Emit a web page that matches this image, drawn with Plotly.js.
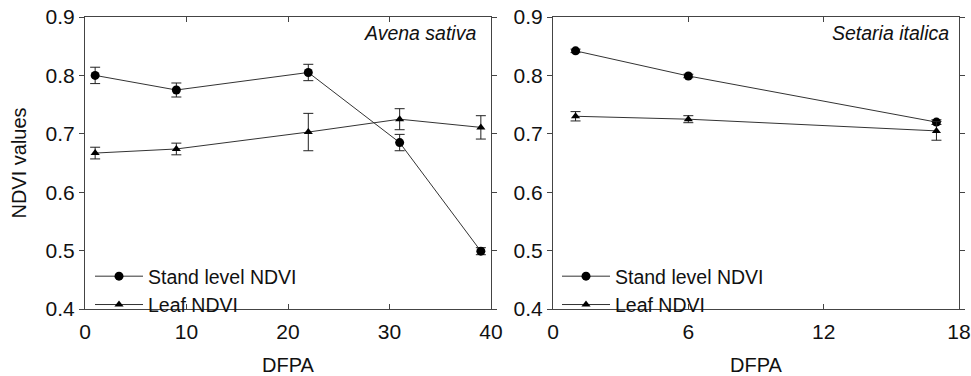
<!DOCTYPE html>
<html>
<head>
<meta charset="utf-8">
<script src="https://cdn.plot.ly/plotly-3.0.1.min.js"></script>
<style>html,body{margin:0;padding:0;background:#fff;}#chart{width:971px;height:376px;}</style>
</head>
<body>
<div id="chart"></div>
<script>
// Avena sativa panel
const avenaX = [1, 9, 22, 31, 39];
const avenaStand = [0.800, 0.775, 0.805, 0.685, 0.499];
const avenaStandErr = [0.014, 0.012, 0.014, 0.014, 0.006];
const avenaLeaf = [0.667, 0.674, 0.703, 0.725, 0.711];
const avenaLeafErr = [0.010, 0.010, 0.032, 0.018, 0.020];

// Setaria italica panel
const setariaX = [1, 6, 17];
const setariaStand = [0.842, 0.799, 0.720];
const setariaStandErr = [0.003, 0.003, 0.004];
const setariaLeaf = [0.730, 0.725, 0.705];
const setariaLeafErr = [0.008, 0.006, 0.016];

const seriesNames = ["Stand level NDVI", "Leaf NDVI"];
const panelLabels = ["Avena sativa", "Setaria italica"];
const xTitle = "DFPA";
const yTitle = "NDVI values";
const yTicks = [0.4, 0.5, 0.6, 0.7, 0.8, 0.9];
const avenaTicks = [0, 10, 20, 30, 40];
const setariaTicks = [0, 6, 12, 18];

const FONT = "Liberation Sans, Arial, sans-serif";
const lineC = "#333";

function trace(x, y, err, name, symbol, size, xa, ya, legend) {
  return {
    x: x, y: y, name: name, type: "scatter", mode: "lines+markers",
    xaxis: xa, yaxis: ya, legend: legend,
    line: {color: lineC, width: 1},
    marker: {symbol: symbol, size: size, color: "#000"},
    error_y: {type: "data", array: err, visible: true, color: "#222", thickness: 1, width: 5}
  };
}

const data = [
  trace(avenaX, avenaStand, avenaStandErr, seriesNames[0], "circle", 9, "x", "y", "legend"),
  trace(avenaX, avenaLeaf, avenaLeafErr, seriesNames[1], "triangle-up", 8, "x", "y", "legend"),
  trace(setariaX, setariaStand, setariaStandErr, seriesNames[0], "circle", 9, "x2", "y2", "legend2"),
  trace(setariaX, setariaLeaf, setariaLeafErr, seriesNames[1], "triangle-up", 8, "x2", "y2", "legend2")
];

const axCommon = {
  showline: true, linecolor: "#444", linewidth: 1, mirror: "ticks",
  showgrid: false, zeroline: false,
  tickfont: {family: FONT, size: 21, color: "#111"},
  ticklen: 5, tickcolor: "#444", tickwidth: 1
};

const legendCommon = {
  xanchor: "left", yanchor: "top",
  bgcolor: "rgba(0,0,0,0)", font: {family: FONT, size: 19.5, color: "#111"},
  tracegroupgap: 0, itemwidth: 48
};

const layout = {
  width: 971, height: 376,
  margin: {l: 0, r: 0, t: 0, b: 0},
  paper_bgcolor: "#fff", plot_bgcolor: "#fff",
  font: {family: FONT, color: "#111"},
  xaxis: Object.assign({}, axCommon, {
    domain: [85/971, 491/971], range: [0, 40], tickvals: avenaTicks, ticks: "inside",
    ticklabelstandoff: 4,
    anchor: "y", title: {text: xTitle, font: {family: FONT, size: 20}, standoff: 20}
  }),
  yaxis: Object.assign({}, axCommon, {
    domain: [1 - 309/376, 1 - 17/376], range: [0.4, 0.9], tickvals: yTicks, ticks: "outside",
    tickformat: ".1f", anchor: "x",
    title: {text: yTitle, font: {family: FONT, size: 20}, standoff: 13}
  }),
  xaxis2: Object.assign({}, axCommon, {
    domain: [553/971, 959/971], range: [0, 18], tickvals: setariaTicks, ticks: "inside",
    ticklabelstandoff: 4,
    anchor: "y2", title: {text: xTitle, font: {family: FONT, size: 20}, standoff: 20}
  }),
  yaxis2: Object.assign({}, axCommon, {
    domain: [1 - 309/376, 1 - 17/376], range: [0.4, 0.9], tickvals: yTicks, ticks: "outside",
    tickformat: ".1f", anchor: "x2"
  }),
  legend: Object.assign({}, legendCommon, {x: 90/971, y: 1 - 257/376}),
  legend2: Object.assign({}, legendCommon, {x: 557/971, y: 1 - 257/376}),
  showlegend: true,
  annotations: [
    {text: "<i>" + panelLabels[0] + "</i>", xref: "paper", yref: "paper",
     x: 478/971, y: 1 - 33/376, xanchor: "right", yanchor: "middle", showarrow: false,
     font: {family: FONT, size: 19.5, color: "#111"}},
    {text: "<i>" + panelLabels[1] + "</i>", xref: "paper", yref: "paper",
     x: 951/971, y: 1 - 33/376, xanchor: "right", yanchor: "middle", showarrow: false,
     font: {family: FONT, size: 19.5, color: "#111"}}
  ]
};

Plotly.newPlot("chart", data, layout, {staticPlot: true, displayModeBar: false});
</script>
</body>
</html>
